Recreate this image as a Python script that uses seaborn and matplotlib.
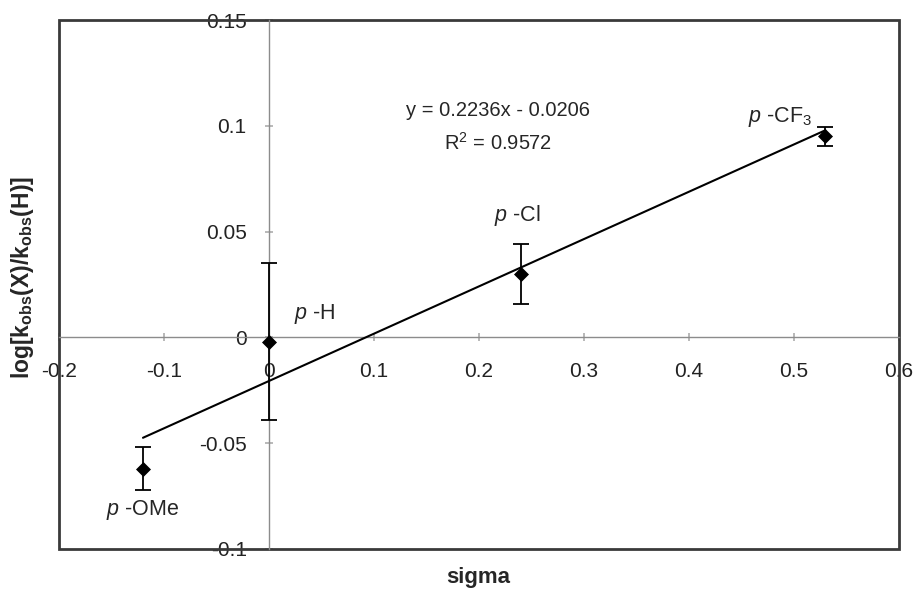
import numpy as np
import pandas as pd
import matplotlib
matplotlib.use("Agg")
import matplotlib.pyplot as plt
import seaborn as sns
from matplotlib.patches import Rectangle

# data
substituents = [r"$\mathit{p}$ -OMe", r"$\mathit{p}$ -H", r"$\mathit{p}$ -Cl", r"$\mathit{p}$ -CF$_3$"]
sigma = [-0.12, 0.0, 0.24, 0.53]
log_ratio = [-0.062, -0.002, 0.030, 0.095]
err = [0.0103, 0.037, 0.014, 0.0045]
slope = 0.2236
intercept = -0.0206
r2 = 0.9572
xticks = [-0.2, -0.1, 0, 0.1, 0.2, 0.3, 0.4, 0.5, 0.6]
xticklabels = ["-0.2", "-0.1", "0", "0.1", "0.2", "0.3", "0.4", "0.5", "0.6"]
yticks = [-0.1, -0.05, 0, 0.05, 0.1, 0.15]
yticklabels = ["-0.1", "-0.05", "0", "0.05", "0.1", "0.15"]

sns.set_theme(style="white")
plt.rcParams["font.family"] = ["Liberation Sans", "DejaVu Sans"]
plt.rcParams["mathtext.fontset"] = "custom"
plt.rcParams["mathtext.default"] = "regular"
plt.rcParams["mathtext.it"] = "Liberation Sans:italic"
plt.rcParams["mathtext.rm"] = "Liberation Sans"
plt.rcParams["axes.unicode_minus"] = False

df = pd.DataFrame({"sigma": sigma, "logk": log_ratio, "err": err, "label": substituents})

fig = plt.figure(figsize=(9.19, 5.91), dpi=100)
ax = fig.add_axes([0.0642, 0.0711, 0.9138, 0.8949])

# trendline from the fitted equation
fit = pd.DataFrame({"sigma": [min(sigma), max(sigma)]})
fit["logk"] = slope * fit["sigma"] + intercept
sns.lineplot(data=fit, x="sigma", y="logk", color="black", lw=1.5, ax=ax, zorder=3)

ax.errorbar(df["sigma"], df["logk"], yerr=df["err"], fmt="none", ecolor="black",
            elinewidth=1.3, capsize=5.5, capthick=1.3, zorder=4)
sns.scatterplot(data=df, x="sigma", y="logk", marker="D", color="black", s=50,
                edgecolor="black", ax=ax, zorder=5)

ax.set_xlim(-0.2, 0.6)
ax.set_ylim(-0.1, 0.15)

# axes crossing at zero
for side in ["top", "right"]:
    ax.spines[side].set_visible(False)
for side in ["left", "bottom"]:
    ax.spines[side].set_position(("data", 0))
    ax.spines[side].set_color("#8c8c8c")
    ax.spines[side].set_linewidth(1.0)
ax.set_xticks(xticks)
ax.set_xticklabels(xticklabels)
ax.set_yticks(yticks)
ax.set_yticklabels(yticklabels)
ax.tick_params(axis="x", direction="inout", length=6, color="#b0b0b0", pad=15,
               labelsize=15, labelcolor="#222222")
ax.tick_params(axis="y", direction="inout", length=6, color="#b0b0b0", pad=13,
               labelsize=15, labelcolor="#222222")
ax.xaxis.set_ticks_position("bottom")
ax.yaxis.set_ticks_position("left")

# outer plot-area frame
ax.add_patch(Rectangle((0, 0), 1, 1, transform=ax.transAxes, fill=False,
                       ec="#3a3a3a", lw=2.0, clip_on=False, zorder=2))

ax.set_xlabel("")
ax.set_ylabel("")
fig.text(0.52, 0.022, "sigma", ha="center", va="center", fontsize=16, fontweight="bold")
fig.text(0.024, 0.53, r"log[k$_{obs}$(X)/k$_{obs}$(H)]", ha="center", va="center",
         rotation=90, fontsize=16.5, fontweight="bold")

# substituent labels
offsets = [(0.0, -0.0198), (0.044, 0.0133), (-0.003, 0.0277), (-0.043, 0.009)]
for (dx, dy), x, y, lab in zip(offsets, sigma, log_ratio, substituents):
    ax.text(x + dx, y + dy, lab, ha="center", va="center", fontsize=15.5)

ax.text(0.218, 0.1075, f"y = {slope}x - {abs(intercept)}", ha="center", va="center", fontsize=14.5)
ax.text(0.218, 0.092, f"R$^2$ = {r2}", ha="center", va="center", fontsize=14.5)

fig.savefig("out.png", dpi=100)
